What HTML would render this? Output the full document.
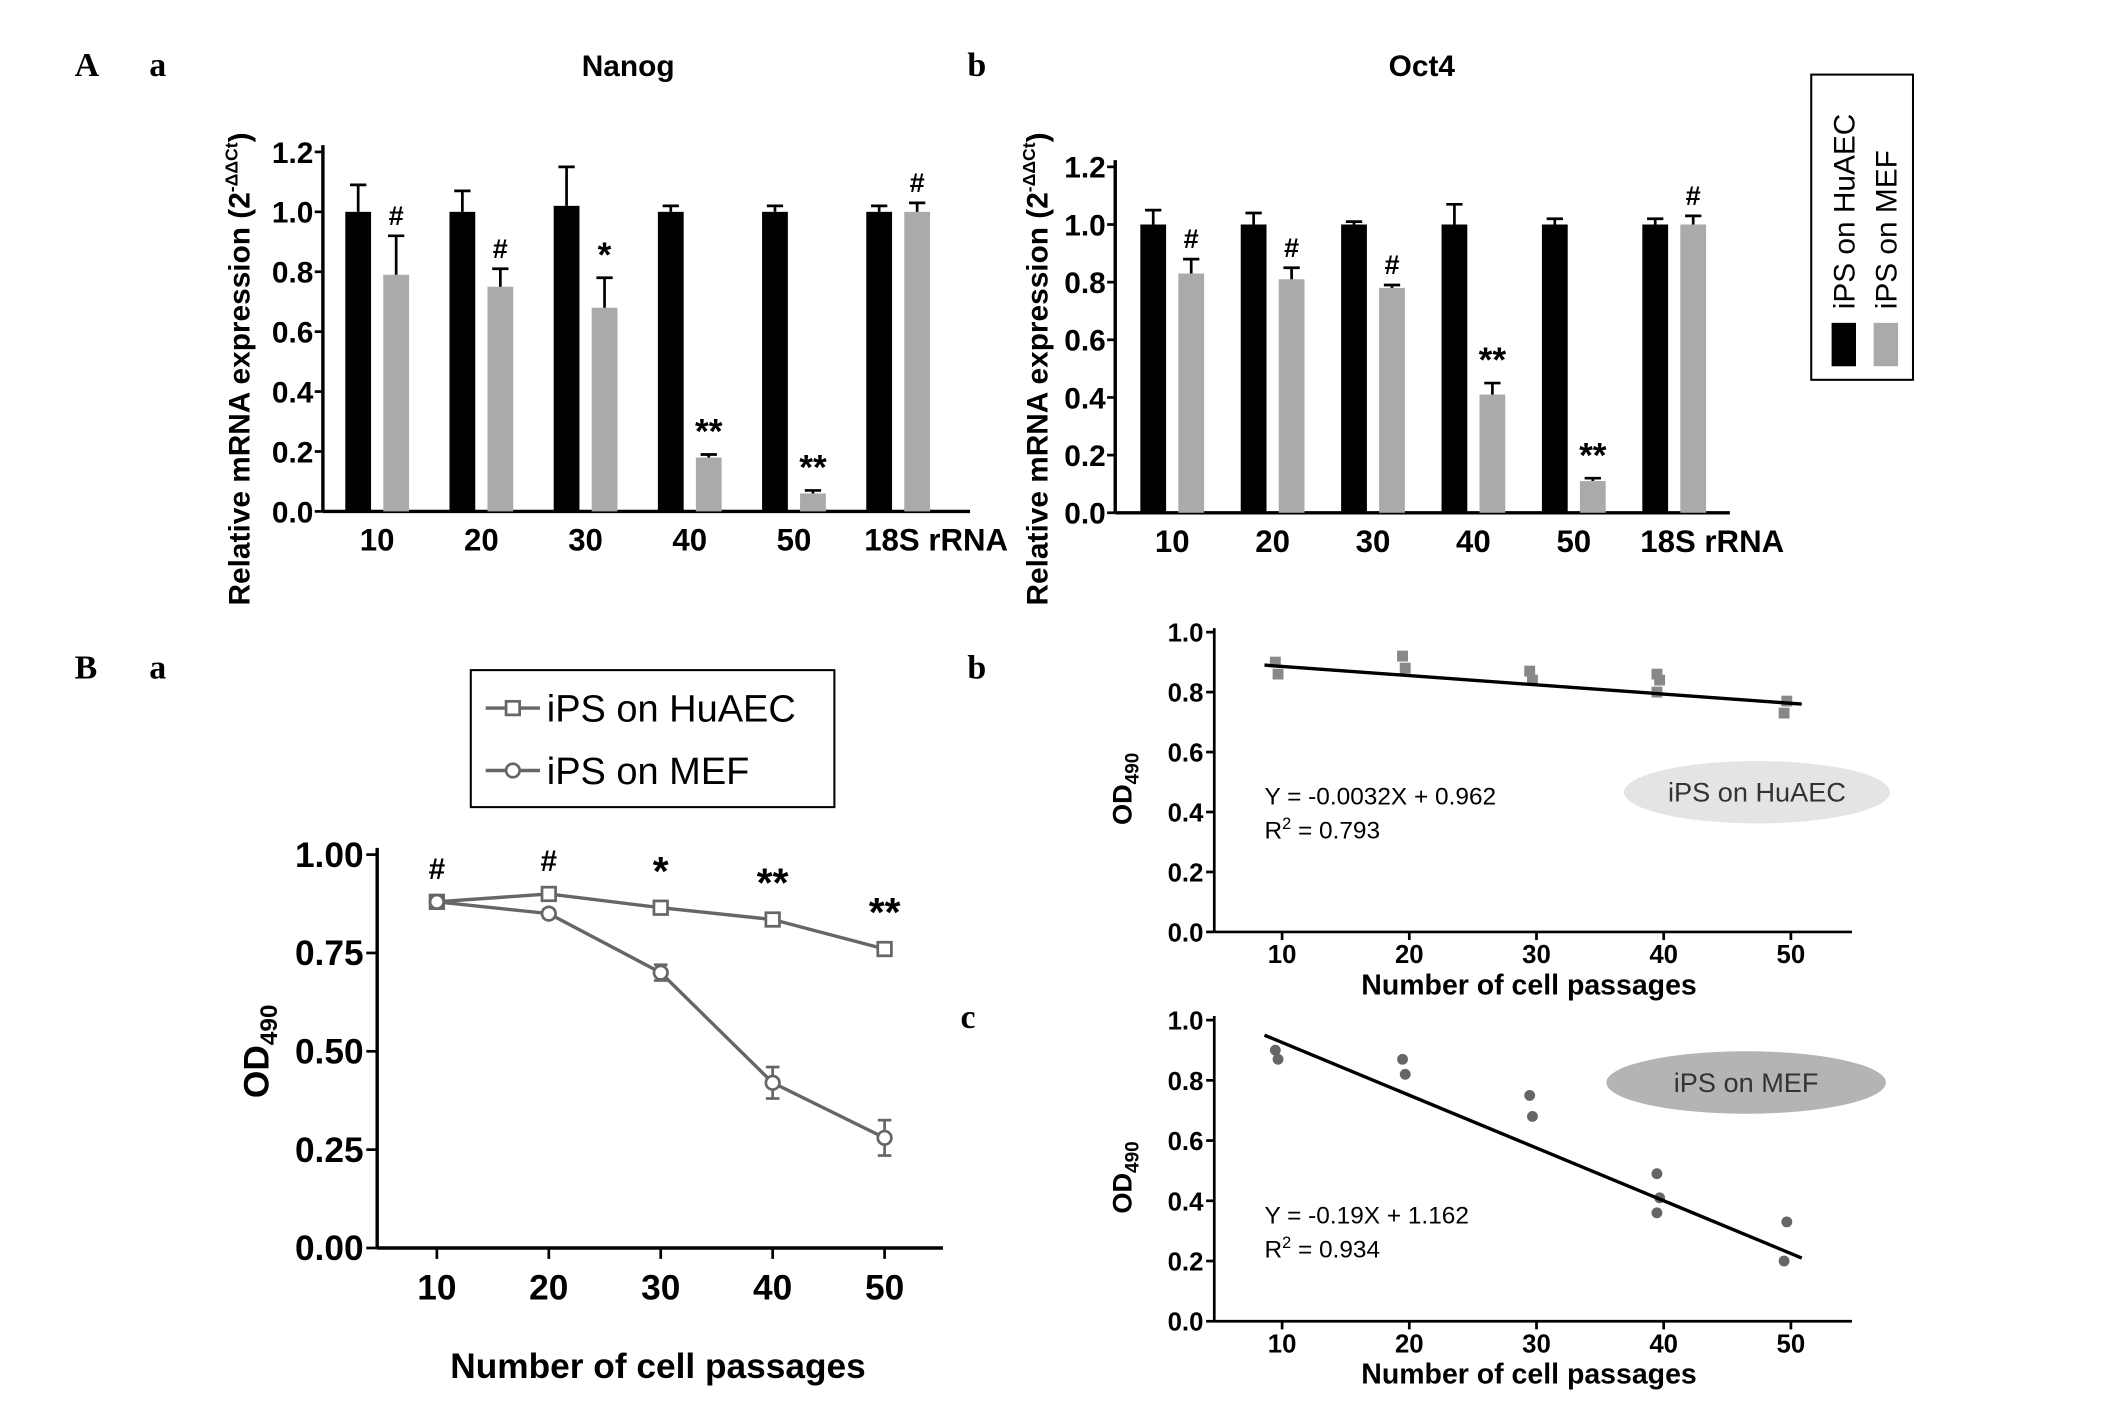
<!DOCTYPE html>
<html><head><meta charset="utf-8"><style>
html,body{margin:0;padding:0;background:#fff;}
svg{display:block;font-family:"Liberation Sans",Arial,sans-serif;}
.b{font-weight:bold;}
.ser{font-family:"Liberation Serif",serif;font-weight:bold;}
</style></head><body>
<svg id="fig" width="2126" height="1404" viewBox="0 0 1567 1035" preserveAspectRatio="none" xmlns="http://www.w3.org/2000/svg">
<g id="root"></g>
</svg>
<script>
// ---- data ----
const barCats = ["10","20","30","40","50","18S rRNA"];
const nanogHuAEC = [1.0,1.0,1.02,1.0,1.0,1.0];
const nanogHuAECErr = [0.09,0.07,0.13,0.02,0.02,0.02];
const nanogMEF = [0.79,0.75,0.68,0.18,0.06,1.0];
const nanogMEFErr = [0.13,0.06,0.10,0.01,0.01,0.03];
const nanogMarks = ["#","#","*","**","**","#"];
const oct4HuAEC = [1.0,1.0,1.0,1.0,1.0,1.0];
const oct4HuAECErr = [0.05,0.04,0.01,0.07,0.02,0.02];
const oct4MEF = [0.83,0.81,0.78,0.41,0.11,1.0];
const oct4MEFErr = [0.05,0.04,0.01,0.04,0.01,0.03];
const oct4Marks = ["#","#","#","**","**","#"];
const barTicks = [0,0.2,0.4,0.6,0.8,1.0,1.2];
const passages = [10,20,30,40,50];
const odHuAEC = [0.88,0.90,0.865,0.835,0.76];
const odHuAECErr = [0.01,0.01,0.01,0.01,0.01];
const odMEF = [0.88,0.85,0.70,0.42,0.28];
const odMEFErr = [0.01,0.01,0.02,0.04,0.045];
const odMarks = ["#","#","*","**","**"];
const odTicks = [0,0.25,0.5,0.75,1.0];
const scatterX = [10,10,20,20,30,30,40,40,40,50,50];
const scatterHuAEC = [0.90,0.86,0.92,0.88,0.87,0.84,0.86,0.84,0.80,0.77,0.73];
const scatterMEF = [0.90,0.87,0.87,0.82,0.75,0.68,0.49,0.41,0.36,0.33,0.20];
const fitHuAEC = [0.89,0.76];
const fitMEF = [0.95,0.21];
const smallTicks = [0,0.2,0.4,0.6,0.8,1.0];

const NS="http://www.w3.org/2000/svg";
const root=document.getElementById('root');
function mk(tag,attrs,parent,text){const e=document.createElementNS(NS,tag);for(const k in attrs)e.setAttribute(k,attrs[k]);if(text!==undefined)e.textContent=text;(parent||root).appendChild(e);return e;}

function barPanel(o){
  const g=mk('g',{});
  
  
  const y=v=>o.y0-(v/1.2)*(o.y0-o.y12);
  mk('line',{x1:o.ax,y1:o.y12-5,x2:o.ax,y2:o.y0,stroke:'#000','stroke-width':2.5},g);
  mk('line',{x1:o.ax,y1:o.y0,x2:o.xend,y2:o.y0,stroke:'#000','stroke-width':2.5},g);
  barTicks.forEach(t=>{
    mk('line',{x1:o.ax-6,y1:y(t),x2:o.ax,y2:y(t),stroke:'#000','stroke-width':2},g);
    const tx=mk('text',{x:o.ax-7,y:y(t)+8,'text-anchor':'end','font-size':22,class:'b'},g,t.toFixed(1));
    
    
  });
  barCats.forEach((c,i)=>{
    const cx=o.b0+i*o.gap;
    const draw=(v,e,x,fill,nm)=>{
      const r=mk('rect',{x:x-9.5,y:y(v),width:19,height:o.y0-y(v),fill:fill},g);
      
      
      mk('line',{x1:x,y1:y(v),x2:x,y2:y(v+e),stroke:'#000','stroke-width':2},g);
      mk('line',{x1:x-6,y1:y(v+e),x2:x+6,y2:y(v+e),stroke:'#000','stroke-width':2},g);
    };
    draw(o.h[i],o.he[i],cx,'#000','bar-huaec-'+c);
    draw(o.m[i],o.me[i],cx+28,'#aaa','bar-mef-'+c);
    const mt=o.marks[i];
    mk('text',{x:cx+28,y:y(o.m[i]+o.me[i])-8,'text-anchor':'middle','font-size':mt==='#'?20:26,class:'b'},g,mt);
    const lx=i===5?cx+42:cx+14;
    const tl=mk('text',{x:lx,y:o.y0+29,'text-anchor':'middle','font-size':23,class:'b'},g,c);
    
    
  });
  const tt=mk('text',{x:o.tx,y:56,'text-anchor':'middle','font-size':22,class:'b'},g,o.title);
  
  
  const yl=mk('text',{transform:`translate(${o.ylx},${o.yly}) rotate(-90)`,'text-anchor':'middle','font-size':22,class:'b'},g);
  
  
  yl.innerHTML='Relative mRNA expression (2<tspan dy="-9" font-size="13">-ΔΔCt</tspan><tspan dy="9">)</tspan>';
}
barPanel({name:'nanog-chart',ax:238,y0:377,y12:112,xend:715,b0:264,gap:76.8,h:nanogHuAEC,he:nanogHuAECErr,m:nanogMEF,me:nanogMEFErr,marks:nanogMarks,title:'Nanog',tx:463,ylx:184,yly:272});
barPanel({name:'oct4-chart',ax:822,y0:378,y12:123,xend:1275,b0:850,gap:74,h:oct4HuAEC,he:oct4HuAECErr,m:oct4MEF,me:oct4MEFErr,marks:oct4Marks,title:'Oct4',tx:1048,ylx:772,yly:272});

// panel letters
[['A',55,56],['a',110,56],['b',713,56],['B',55,500],['a',110,500],['b',713,500],['c',708,758]].forEach(p=>{
  const t=mk('text',{x:p[1],y:p[2],'font-size':25,class:'ser'},root,p[0]);
  
  
});

// legend A
const lg=mk('g',{});


mk('rect',{x:1335,y:55,width:75,height:225,fill:'none',stroke:'#000','stroke-width':1.5},lg);
mk('rect',{x:1350,y:238,width:18,height:32,fill:'#000'},lg);
mk('rect',{x:1381,y:238,width:18,height:32,fill:'#aaa'},lg);
mk('text',{transform:'translate(1367,228) rotate(-90)','font-size':22},lg,'iPS on HuAEC');
mk('text',{transform:'translate(1398,228) rotate(-90)','font-size':22},lg,'iPS on MEF');

// panel Ba
(function(){
  const g=mk('g',{});
  
  
  const ax=278,y0=920,y1=630;
  const y=v=>y0-v*(y0-y1);
  const x=p=>322+(p-10)*8.25;
  mk('line',{x1:ax,y1:y1-5,x2:ax,y2:y0,stroke:'#000','stroke-width':2.5},g);
  mk('line',{x1:ax,y1:y0,x2:695,y2:y0,stroke:'#000','stroke-width':2.5},g);
  odTicks.forEach(t=>{
    mk('line',{x1:ax-8,y1:y(t),x2:ax,y2:y(t),stroke:'#000','stroke-width':2},g);
    mk('text',{x:ax-10,y:y(t)+9,'text-anchor':'end','font-size':26,class:'b'},g,t.toFixed(2));
  });
  passages.forEach(p=>{
    mk('line',{x1:x(p),y1:y0,x2:x(p),y2:y0+8,stroke:'#000','stroke-width':2},g);
    mk('text',{x:x(p),y:y0+38,'text-anchor':'middle','font-size':26,class:'b'},g,String(p));
  });
  mk('text',{x:485,y:1016,'text-anchor':'middle','font-size':26,class:'b'},g,'Number of cell passages');
  const yl=mk('text',{transform:'translate(198,775) rotate(-90)','text-anchor':'middle','font-size':26,class:'b'},g);
  yl.innerHTML='OD<tspan dy="6" font-size="18">490</tspan>';
  const series=(vals,errs,nm,shape)=>{
    mk('polyline',{points:vals.map((v,i)=>x(passages[i])+','+y(v)).join(' '),fill:'none',stroke:'#666','stroke-width':2.5},g);
    vals.forEach((v,i)=>{
      const cx=x(passages[i]),cy=y(v);
      mk('line',{x1:cx,y1:y(v-errs[i]),x2:cx,y2:y(v+errs[i]),stroke:'#666','stroke-width':2},g);
      mk('line',{x1:cx-5,y1:y(v-errs[i]),x2:cx+5,y2:y(v-errs[i]),stroke:'#666','stroke-width':2},g);
      mk('line',{x1:cx-5,y1:y(v+errs[i]),x2:cx+5,y2:y(v+errs[i]),stroke:'#666','stroke-width':2},g);
      const m=shape==='sq'?mk('rect',{x:cx-5,y:cy-5,width:10,height:10,fill:'#fff',stroke:'#666','stroke-width':2},g)
        :mk('circle',{cx:cx,cy:cy,r:5,fill:'#fff',stroke:'#666','stroke-width':2},g);
      
      
    });
  };
  series(odHuAEC,odHuAECErr,'point-huaec','sq');
  series(odMEF,odMEFErr,'point-mef','ci');
  odMarks.forEach((m,i)=>{
    const top=Math.max(odHuAEC[i]+odHuAECErr[i],odMEF[i]+odMEFErr[i]);
    mk('text',{x:x(passages[i]),y:y(top)-14,'text-anchor':'middle','font-size':m==='#'?22:30,class:'b'},g,m);
  });
  const lg=mk('g',{},g);
  
  
  mk('rect',{x:347,y:494,width:268,height:101,fill:'#fff',stroke:'#000','stroke-width':1.5},lg);
  mk('line',{x1:358,y1:522,x2:398,y2:522,stroke:'#666','stroke-width':2.5},lg);
  mk('rect',{x:373,y:517,width:10,height:10,fill:'#fff',stroke:'#666','stroke-width':2},lg);
  mk('text',{x:403,y:532,'font-size':28},lg,'iPS on HuAEC');
  mk('line',{x1:358,y1:568,x2:398,y2:568,stroke:'#666','stroke-width':2.5},lg);
  mk('circle',{cx:378,cy:568,r:5,fill:'#fff',stroke:'#666','stroke-width':2},lg);
  mk('text',{x:403,y:578,'font-size':28},lg,'iPS on MEF');
})();

function scatterPanel(o){
  const g=mk('g',{});
  
  
  const ax=895;
  const y=v=>o.y0-v*(o.y0-o.y1);
  const x=p=>945+(p-10)*9.375;
  mk('line',{x1:ax,y1:o.y1-3,x2:ax,y2:o.y0,stroke:'#000','stroke-width':2},g);
  mk('line',{x1:ax,y1:o.y0,x2:1365,y2:o.y0,stroke:'#000','stroke-width':2},g);
  smallTicks.forEach(t=>{
    mk('line',{x1:ax-6,y1:y(t),x2:ax,y2:y(t),stroke:'#000','stroke-width':2},g);
    mk('text',{x:ax-8,y:y(t)+7,'text-anchor':'end','font-size':19,class:'b'},g,t.toFixed(1));
  });
  passages.forEach(p=>{
    mk('line',{x1:x(p),y1:o.y0,x2:x(p),y2:o.y0+6,stroke:'#000','stroke-width':2},g);
    mk('text',{x:x(p),y:o.y0+23,'text-anchor':'middle','font-size':19,class:'b'},g,String(p));
  });
  mk('text',{x:1127,y:o.y0+46,'text-anchor':'middle','font-size':21,class:'b'},g,'Number of cell passages');
  const yl=mk('text',{transform:`translate(834,${(o.y0+o.y1)/2+5}) rotate(-90)`,'text-anchor':'middle','font-size':20,class:'b'},g);
  yl.innerHTML='OD<tspan dy="5" font-size="14">490</tspan>';
  scatterX.forEach((p,i)=>{
    const cx=x(p)-5+(i%2)*2,cy=y(o.vals[i]);
    const m=o.sq?mk('rect',{x:cx-4,y:cy-4,width:8,height:8,fill:'#888'},g):mk('circle',{cx:cx,cy:cy,r:4,fill:'#666'},g);
    
    
  });
  const fl=mk('line',{x1:x(passages[0])-13,y1:y(o.fit[0]),x2:x(passages[4])+8,y2:y(o.fit[1]),stroke:'#000','stroke-width':2.5},g);
  
  
  mk('text',{x:932,y:o.eqY,'font-size':18},g,o.eq);
  const r2=mk('text',{x:932,y:o.eqY+25,'font-size':18},g);
  r2.innerHTML='R<tspan dy="-7" font-size="12">2</tspan><tspan dy="7"> = '+o.r2+'</tspan>';
  mk('ellipse',{cx:o.ex,cy:o.ey,rx:o.erx,ry:23,fill:o.efill},g);
  mk('text',{x:o.ex,y:o.ey+7,'text-anchor':'middle','font-size':20,fill:'#333'},g,o.label);
}
scatterPanel({name:'huaec-scatter',y0:687,y1:466,vals:scatterHuAEC,fit:fitHuAEC,sq:true,eq:'Y = -0.0032X + 0.962',r2:'0.793',eqY:593,ex:1295,ey:584,erx:98,efill:'#e4e4e4',label:'iPS on HuAEC'});
scatterPanel({name:'mef-scatter',y0:974,y1:752,vals:scatterMEF,fit:fitMEF,sq:false,eq:'Y = -0.19X + 1.162',r2:'0.934',eqY:902,ex:1287,ey:798,erx:103,efill:'#b4b4b4',label:'iPS on MEF'});
</script>
</body></html>
